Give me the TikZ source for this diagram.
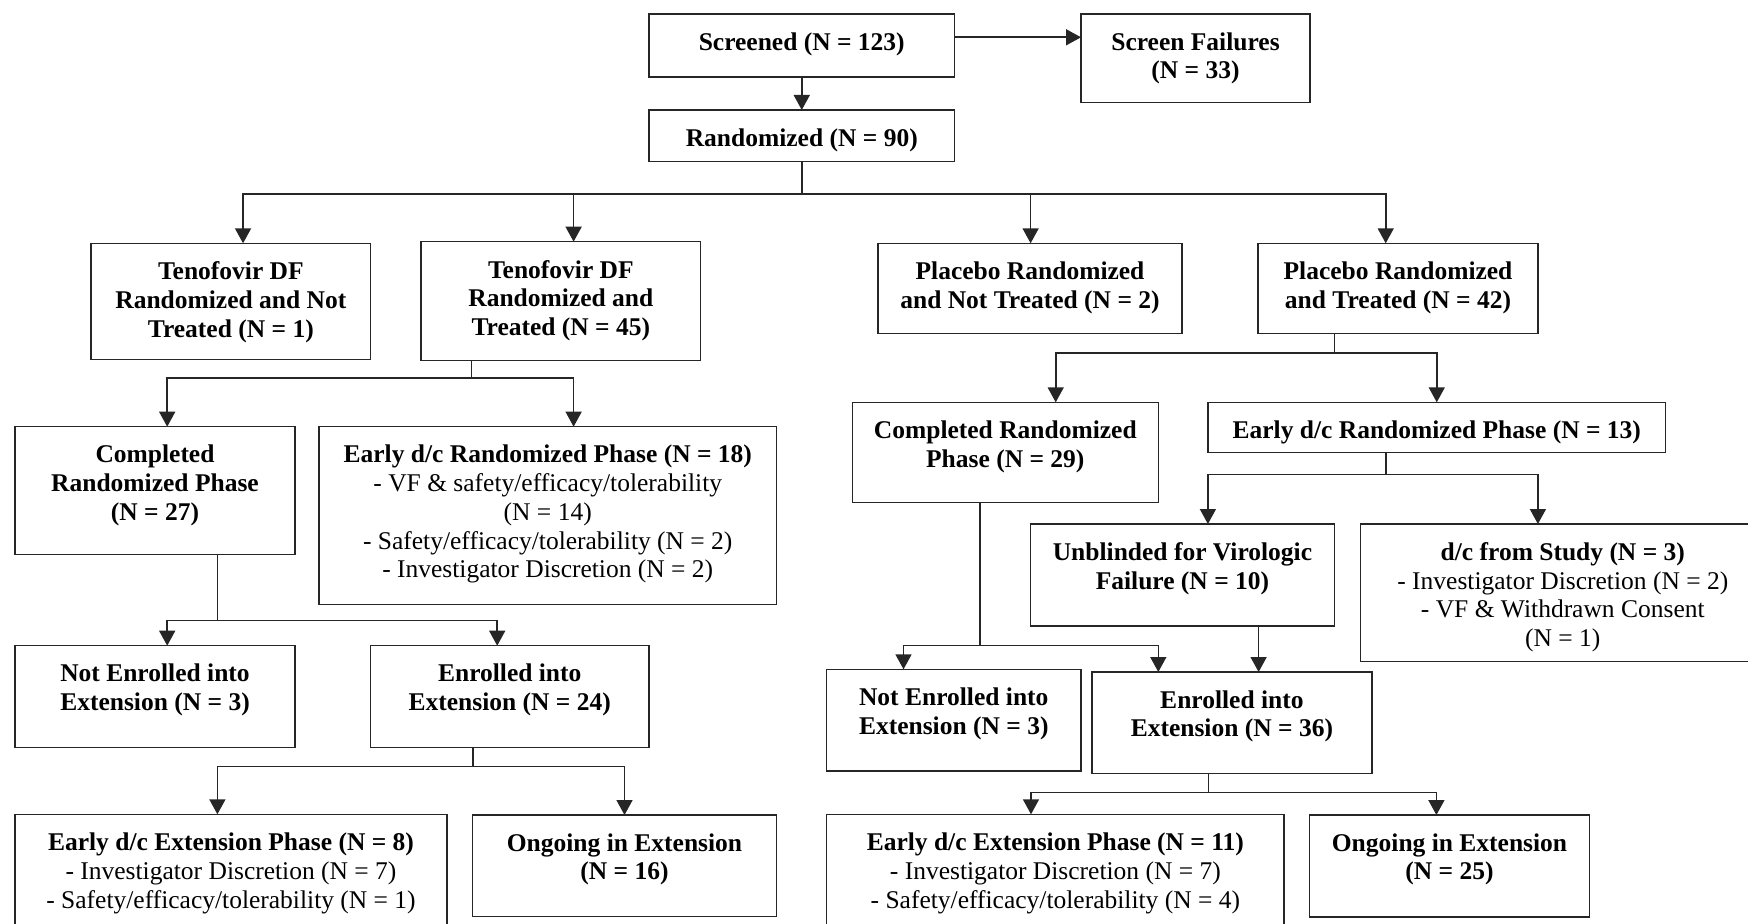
\documentclass[tikz,border=0pt]{standalone}
\usepackage{fontspec}
\setmainfont{Liberation Serif}
\usetikzlibrary{calc,arrows.meta}
\newcommand{\flowbox}[7]{%
  \node[box, minimum width={(#4-#2)*0.5pt}, minimum height={(#5-#3)*0.5pt}] (#1) at ({(#2+#4)/2},{(#3+#5)/2}) {};
  \node[#6] (#1-t) at ($(#1.north)+(0,18)$) {#7};}
\begin{document}
\begin{tikzpicture}[x=0.5pt,y=-0.5pt,
  box/.style={draw=black!85, line width=0.7pt, inner sep=0pt, outer sep=0pt},
  txt/.style={align=center, inner sep=0pt, anchor=north, font=\fontsize{12.75}{14.4}\selectfont},
  txtb/.style={txt, font=\fontsize{12.75}{14.4}\selectfont\bfseries},
  link/.style={draw=black!85, line width=0.8pt},
  arr/.style={link, -{Triangle[length=7.5pt,width=8pt]}}]
\clip (0,0) rectangle (1748,924);
\useasboundingbox (0,0) rectangle (1748,924);
\fill[white] (0,0) rectangle (1748,924);

\flowbox{scr}{649}{14}{954.5}{77}{txtb}{Screened (N = 123)}
\flowbox{sf}{1081}{14}{1310}{102.7}{txtb}{Screen Failures\\(N = 33)}
\flowbox{rand}{649}{110}{954.5}{161.7}{txtb}{Randomized (N = 90)}
\flowbox{tnt}{91}{243.3}{370.7}{359.3}{txtb}{Tenofovir DF\\Randomized and Not\\Treated (N = 1)}
\flowbox{tt}{421}{241.7}{700.7}{360.7}{txtb}{Tenofovir DF\\Randomized and\\Treated (N = 45)}
\flowbox{pnt}{878}{243.3}{1182}{333.3}{txtb}{Placebo Randomized\\and Not Treated (N = 2)}
\flowbox{pt}{1258}{243.3}{1538}{333.3}{txtb}{Placebo Randomized\\and Treated (N = 42)}
\flowbox{tcomp}{15}{426.7}{295}{554.3}{txtb}{Completed\\Randomized Phase\\(N = 27)}
\flowbox{tedc}{319}{426.7}{776.5}{604.7}{txt}{\textbf{Early d/c Randomized Phase (N = 18)}\\- VF \& safety/efficacy/tolerability\\(N = 14)\\- Safety/efficacy/tolerability (N = 2)\\- Investigator Discretion (N = 2)}
\flowbox{pcomp}{852.3}{402.3}{1158.3}{502.7}{txtb}{Completed Randomized\\Phase (N = 29)}
\flowbox{pedc}{1208}{402.3}{1665.5}{452.7}{txtb}{Early d/c Randomized Phase (N = 13)}
\flowbox{unb}{1030.5}{524}{1334.4}{626}{txtb}{Unblinded for Virologic\\Failure (N = 10)}
\flowbox{dcs}{1360.6}{524}{1765}{661.7}{txt}{\textbf{d/c from Study (N = 3)}\\- Investigator Discretion (N = 2)\\- VF \& Withdrawn Consent\\(N = 1)}
\flowbox{tne}{15}{645.7}{295}{747.7}{txtb}{Not Enrolled into\\Extension (N = 3)}
\flowbox{te}{370.7}{645.7}{648.8}{747.7}{txtb}{Enrolled into\\Extension (N = 24)}
\flowbox{pne}{826.7}{669.3}{1080.8}{771}{txtb}{Not Enrolled into\\Extension (N = 3)}
\flowbox{pe}{1092}{672}{1371.8}{773.7}{txtb}{Enrolled into\\Extension (N = 36)}
\flowbox{tedx}{15}{814.3}{447}{945}{txt}{\textbf{Early d/c Extension Phase (N = 8)}\\- Investigator Discretion (N = 7)\\- Safety/efficacy/tolerability (N = 1)}
\flowbox{tong}{472.5}{815}{776.5}{916.3}{txtb}{Ongoing in Extension\\(N = 16)}
\flowbox{pedx}{826.7}{814.3}{1284}{945}{txt}{\textbf{Early d/c Extension Phase (N = 11)}\\- Investigator Discretion (N = 7)\\- Safety/efficacy/tolerability (N = 4)}
\flowbox{pong}{1309.3}{815}{1589.7}{917}{txtb}{Ongoing in Extension\\(N = 25)}

% Screened
\draw[arr] (scr.south) -- (rand.north);
\coordinate (s1) at ($(scr.east)+(0,-8.2)$);
\draw[arr] (s1) -- (s1 -| sf.west);

% Randomized
\coordinate (j1) at ($(rand.south)+(0,32.3)$);
\draw[link] (rand.south) -- (j1);
\draw[arr] (j1) -| ($(tnt.north)+(12.2,0)$);
\draw[arr] (j1) -| ($(tt.north)+(12.75,0)$);
\draw[arr] (j1) -| ($(pnt.north)+(0.6,0)$);
\draw[arr] (j1) -| ($(pt.north)+(-12.3,0)$);

% TDF treated
\coordinate (j2) at ($(tt.south)+(-89.2,17.6)$);
\draw[link] (j2 |- tt.south) -- (j2);
\draw[arr] (j2) -| ($(tcomp.north)+(12.2,0)$);
\draw[arr] (j2) -| ($(tedc.north)+(25.85,0)$);

% Placebo treated
\coordinate (j3) at ($(pt.south)+(-63.6,20)$);
\draw[link] (j3 |- pt.south) -- (j3);
\draw[arr] (j3) -| ($(pcomp.north)+(50.4,0)$);
\draw[arr] (j3) -| (pedc.north);

% TDF completed
\coordinate (j4) at ($(tcomp.south)+(62.4,66)$);
\draw[link] (j4 |- tcomp.south) -- (j4);
\draw[arr] (j4) -| ($(tne.north)+(12.2,0)$);
\draw[arr] (j4) -| ($(te.north)+(-12.55,0)$);

% TDF enrolled
\coordinate (j5) at ($(te.south)+(-37.05,18.6)$);
\draw[link] (j5 |- te.south) -- (j5);
\draw[arr] (j5) -| ($(tedx.north)+(-13.6,0)$);
\draw[arr] (j5) -| (tong.north);

% Placebo early d/c
\coordinate (j6) at ($(pedc.south)+(-51.05,21.6)$);
\draw[link] (j6 |- pedc.south) -- (j6);
\draw[arr] (j6) -| ($(unb.north)+(25.45,0)$);
\draw[arr] (j6) -| ($(dcs.north)+(-24.9,0)$);

% Placebo completed
\coordinate (j7) at ($(pcomp.south)+(-25.1,142.8)$);
\draw[link] (j7 |- pcomp.south) -- (j7);
\draw[arr] (j7) -| ($(pne.north)+(-50.25,0)$);
\draw[arr] (j7) -| ($(pe.north)+(-73.6,0)$);

% Unblinded to enrolled
\draw[arr] ($(unb.south)+(76.15,0)$) -- ($(pe.north)+(26.7,0)$);

% Placebo enrolled
\coordinate (j8) at ($(pe.south)+(-23.5,18.6)$);
\draw[link] (j8 |- pe.south) -- (j8);
\draw[arr] (j8) -| ($(pedx.north)+(-24.35,0)$);
\draw[arr] (j8) -| ($(pong.north)+(-13.1,0)$);
\end{tikzpicture}
\end{document}
